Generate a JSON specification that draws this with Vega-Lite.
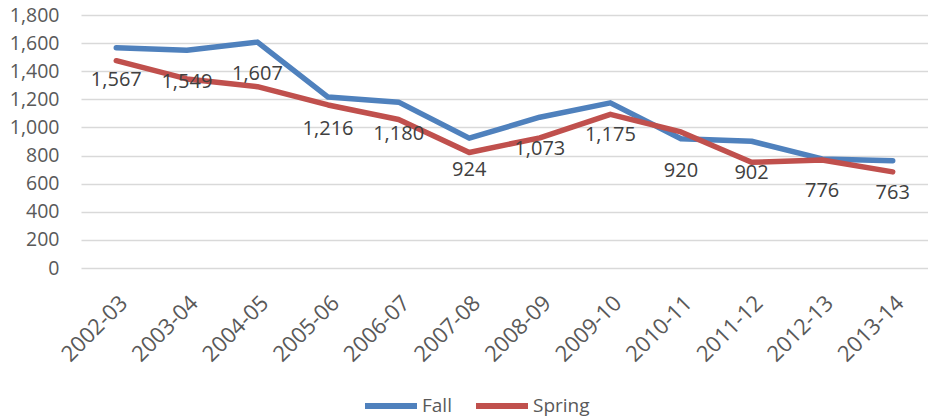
{
  "$schema": "https://vega.github.io/schema/vega-lite/v6.json",
  "width": 847,
  "height": 253,
  "autosize": {"type": "none"},
  "padding": {"left": 81, "top": 15, "right": 0, "bottom": 152},
  "background": "white",
  "config": {
    "view": {"stroke": null},
    "font": "Open Sans"
  },
  "data": {
    "values": [
      {"year": "2002-03", "series": "Fall", "value": 1567},
      {"year": "2003-04", "series": "Fall", "value": 1549},
      {"year": "2004-05", "series": "Fall", "value": 1607},
      {"year": "2005-06", "series": "Fall", "value": 1216},
      {"year": "2006-07", "series": "Fall", "value": 1180},
      {"year": "2007-08", "series": "Fall", "value": 924},
      {"year": "2008-09", "series": "Fall", "value": 1073},
      {"year": "2009-10", "series": "Fall", "value": 1175},
      {"year": "2010-11", "series": "Fall", "value": 920},
      {"year": "2011-12", "series": "Fall", "value": 902},
      {"year": "2012-13", "series": "Fall", "value": 776},
      {"year": "2013-14", "series": "Fall", "value": 763},
      {"year": "2002-03", "series": "Spring", "value": 1475},
      {"year": "2003-04", "series": "Spring", "value": 1345},
      {"year": "2004-05", "series": "Spring", "value": 1290},
      {"year": "2005-06", "series": "Spring", "value": 1160},
      {"year": "2006-07", "series": "Spring", "value": 1057},
      {"year": "2007-08", "series": "Spring", "value": 822},
      {"year": "2008-09", "series": "Spring", "value": 926},
      {"year": "2009-10", "series": "Spring", "value": 1093},
      {"year": "2010-11", "series": "Spring", "value": 968},
      {"year": "2011-12", "series": "Spring", "value": 752},
      {"year": "2012-13", "series": "Spring", "value": 768},
      {"year": "2013-14", "series": "Spring", "value": 684}
    ]
  },
  "encoding": {
    "x": {
      "field": "year",
      "type": "ordinal",
      "scale": {"type": "point", "padding": 0.5},
      "axis": {
        "title": null,
        "labelAngle": -45,
        "labelFontSize": 22,
        "labelColor": "#595959",
        "labelPadding": 24,
        "ticks": false,
        "domain": false,
        "grid": false
      }
    },
    "y": {
      "field": "value",
      "type": "quantitative",
      "scale": {"domain": [0, 1800], "nice": false},
      "axis": {
        "title": null,
        "values": [0, 200, 400, 600, 800, 1000, 1200, 1400, 1600, 1800],
        "format": ",d",
        "labelFontSize": 19.5,
        "labelColor": "#595959",
        "labelPadding": 22,
        "ticks": false,
        "domain": false,
        "gridColor": "#D9D9D9",
        "gridWidth": 1.5
      }
    }
  },
  "layer": [
    {
      "mark": {"type": "line", "strokeWidth": 5.5, "strokeJoin": "round", "strokeCap": "round"},
      "encoding": {
        "color": {
          "field": "series",
          "type": "nominal",
          "scale": {"domain": ["Fall", "Spring"], "range": ["#4F81BD", "#C0504D"]},
          "legend": {
            "title": null,
            "orient": "none",
            "direction": "horizontal",
            "legendX": 281,
            "legendY": 362,
            "symbolType": "stroke",
            "symbolSize": 2704,
            "symbolStrokeWidth": 6,
            "labelFontSize": 19,
            "labelColor": "#595959",
            "labelOffset": 2,
            "columnPadding": 12
          }
        }
      }
    },
    {
      "transform": [{"filter": "datum.series === 'Fall'"}],
      "mark": {"type": "text", "dy": 32, "fontSize": 20, "color": "#404040", "baseline": "middle"},
      "encoding": {
        "text": {"field": "value", "type": "quantitative", "format": ",d"}
      }
    }
  ]
}
